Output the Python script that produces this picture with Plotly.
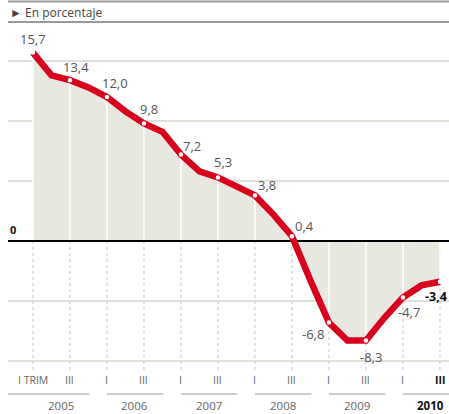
import plotly.graph_objects as go

# ---- data ----
years = ["2005", "2006", "2007", "2008", "2009", "2010"]
quarter_names = ["I", "II", "III", "IV"]
values = [15.7, 13.8, 13.4, 12.8,
          12.0, 10.8, 9.8, 9.1,
          7.2, 5.8, 5.3, 4.5,
          3.8, 2.2, 0.4, -3.3,
          -6.8, -8.3, -8.3, -6.4,
          -4.7, -3.7, -3.4]
tick_labels = ["I TRIM", "III", "I", "III", "I", "III", "I", "III", "I", "III", "I", "<b>III</b>"]
unit_label = "► En porcentaje"

# ---- layout constants ----
W, H = 449, 414
T, B, L, R = 30, 44, 8, 0
YMIN, YMAX = -10.75, 17.583
XMIN, XMAX = -1.35, 22.49
RED = "#d7001d"
FILL = "#e8e8e1"
FONT = "Open Sans"

def py(pix):
    return (H - B - pix) / (H - T - B)

x = list(range(len(values)))
tick_idx = [i for i in x if i % 2 == 0]  # quarters I and III

fig = go.Figure()

# dotted guide lines below zero
dx, dy = [], []
for i in tick_idx:
    dx += [i, i, None]
    dy += [0, YMIN, None]
fig.add_trace(go.Scatter(x=dx, y=dy, mode="lines",
                         line=dict(color="#c4c4c4", width=1, dash="dot"),
                         hoverinfo="skip", showlegend=False))

# area fill
fig.add_trace(go.Scatter(x=x, y=values, mode="lines", fill="tozeroy",
                         fillcolor=FILL, line=dict(width=0),
                         hoverinfo="skip", showlegend=False))

# white separators inside the fill
wx, wy = [], []
for i in tick_idx:
    wx += [i, i, None]
    wy += [0, values[i], None]
fig.add_trace(go.Scatter(x=wx, y=wy, mode="lines",
                         line=dict(color="white", width=1.5),
                         hoverinfo="skip", showlegend=False))

# zero line
fig.add_trace(go.Scatter(x=[XMIN, XMAX], y=[0, 0], mode="lines",
                         line=dict(color="black", width=2),
                         hoverinfo="skip", showlegend=False))

# red line
fig.add_trace(go.Scatter(x=x, y=values, mode="lines",
                         line=dict(color=RED, width=6.5, shape="linear"),
                         hoverinfo="skip", showlegend=False))

# white markers at I and III
fig.add_trace(go.Scatter(x=tick_idx, y=[values[i] for i in tick_idx], mode="markers",
                         marker=dict(color="white", size=4.5, line=dict(width=0)),
                         hoverinfo="skip", showlegend=False))

annotations = []
# value labels
offsets = {0: (0, -14), 2: (6, -13), 4: (8, -14), 6: (5, -14), 8: (11, -9),
           10: (5, -15), 12: (12, -10), 14: (13, -10), 16: (-16, 11),
           18: (5, 16), 20: (6, 15)}
for i in tick_idx:
    txt = f"{values[i]:.1f}".replace(".", ",")
    if i == len(values) - 1:
        annotations.append(dict(x=i, y=values[i], xref="x", yref="y", text=f"<b>{txt}</b>",
                                showarrow=False, xanchor="left", yanchor="middle",
                                xshift=-17, yshift=-15,
                                font=dict(family=FONT, size=12.5, color="#111")))
    else:
        ox, oy = offsets[i]
        annotations.append(dict(x=i, y=values[i], xref="x", yref="y", text=txt,
                                showarrow=False, xanchor="center", yanchor="middle",
                                xshift=ox, yshift=-oy,
                                font=dict(family=FONT, size=13, color="#555")))

# quarter tick labels
for k, i in enumerate(tick_idx):
    last = k == len(tick_idx) - 1
    annotations.append(dict(x=i, y=py(380), xref="x", yref="paper", text=tick_labels[k],
                            showarrow=False, xanchor="center", yanchor="middle",
                            font=dict(family=FONT, size=10.5, color="#111" if last else "#666")))

# year labels and lines
shapes = []
for j, yr in enumerate(years):
    first = 4 * j
    last_y = j == len(years) - 1
    annotations.append(dict(x=first + 1.5, y=py(405), xref="x", yref="paper",
                            text=f"<b>{yr}</b>" if last_y else yr,
                            showarrow=False, xanchor="center", yanchor="middle",
                            font=dict(family=FONT, size=11.5, color="#111" if last_y else "#666")))
    x0 = XMIN if j == 0 else first
    x1 = XMAX if last_y else first + 3.05
    shapes.append(dict(type="line", xref="x", yref="paper", x0=x0, x1=x1,
                       y0=py(394), y1=py(394), line=dict(color="#9a9a9a", width=1.2)))

# zero label
annotations.append(dict(x=0, y=0, xref="paper", yref="y", text="<b>0</b>", showarrow=False,
                        xanchor="left", yanchor="bottom", xshift=0, yshift=2,
                        font=dict(family=FONT, size=11, color="#111")))

# header
shapes.append(dict(type="line", xref="paper", yref="paper", x0=0, x1=1,
                   y0=py(1.5), y1=py(1.5), line=dict(color="#999", width=2)))
shapes.append(dict(type="line", xref="paper", yref="paper", x0=0, x1=1,
                   y0=py(22), y1=py(22), line=dict(color="#777", width=1.5)))
annotations.append(dict(x=0, y=py(12.5), xref="paper", yref="paper", text=unit_label,
                        showarrow=False, xanchor="left", yanchor="middle",
                        font=dict(family=FONT, size=12, color="#444")))

fig.update_layout(
    width=W, height=H,
    margin=dict(l=L, r=R, t=T, b=B),
    paper_bgcolor="white", plot_bgcolor="white",
    showlegend=False,
    xaxis=dict(range=[XMIN, XMAX], showgrid=False, zeroline=False,
               showticklabels=False, ticks="", fixedrange=True),
    yaxis=dict(range=[YMIN, YMAX], dtick=5, tick0=0, showgrid=True,
               gridcolor="#e0e0d8", gridwidth=1.5, zeroline=False,
               showticklabels=False, ticks="", fixedrange=True),
    annotations=annotations,
    shapes=shapes,
)

fig.write_html("out.html")
